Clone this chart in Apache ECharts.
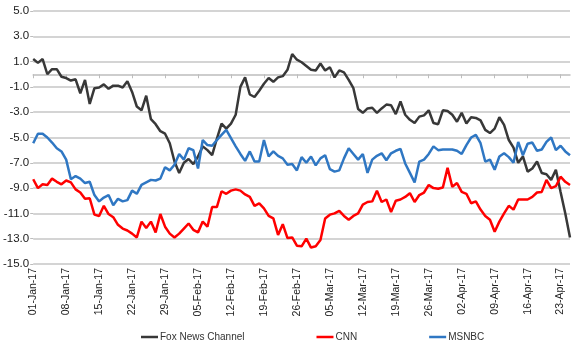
<!DOCTYPE html>
<html>
<head>
<meta charset="utf-8">
<script src="https://cdn.jsdelivr.net/npm/echarts@6/dist/echarts.min.js"></script>
<style>
html,body{margin:0;padding:0;background:#fff;}
#chart{width:580px;height:359px;}
</style>
</head>
<body>
<div id="chart"></div>
<script>
// Categories: daily dates from 01-Jan-17 to 25-Apr-17
const monthNames = ['Jan','Feb','Mar','Apr'];
const monthDays = [31, 28, 31, 25];
const dates = [];
for (let m = 0; m < monthNames.length; m++) {
  for (let d = 1; d <= monthDays[m]; d++) {
    dates.push((d < 10 ? '0' + d : '' + d) + '-' + monthNames[m] + '-17');
  }
}

const seriesNames = ['Fox News Channel', 'CNN', 'MSNBC'];

const fox = [
  1.2, 0.9, 1.2, 0.0, 0.4, 0.4, -0.2, -0.3, -0.5, -0.4,
  -1.5, -0.45, -2.35, -1.1, -1.05, -0.8, -1.15, -0.9, -0.9, -1.05,
  -0.55, -1.4, -2.55, -2.85, -1.7, -3.55, -3.95, -4.5, -4.7, -5.45,
  -6.9, -7.8, -7.0, -6.7, -7.1, -6.5, -5.7, -6.0, -6.4, -5.1,
  -3.9, -4.3, -3.9, -3.2, -1.0, -0.25, -1.6, -1.8, -1.3, -0.75,
  -0.3, -0.6, -0.25, -0.15, 0.35, 1.6, 1.15, 0.95, 0.65, 0.35,
  0.3, 0.85, 0.3, 0.55, -0.25, 0.3, 0.15, -0.45, -1.1, -2.75,
  -3.05, -2.7, -2.65, -3.05, -2.7, -2.4, -2.45, -3.15, -2.15, -3.2,
  -3.6, -3.85, -3.35, -3.25, -2.85, -3.85, -3.95, -2.85, -2.9, -3.2,
  -3.75, -3.05, -3.9, -3.4, -3.45, -3.65, -4.4, -4.65, -4.3, -3.4,
  -4.0, -5.2, -5.8, -7.0, -6.5, -7.7, -7.45, -6.9, -7.8, -7.9,
  -8.35, -7.55, -9.3, -11.0, -12.9
];

const cnn = [
  -8.3, -9.0, -8.7, -8.75, -8.25, -8.5, -8.7, -8.4, -8.55, -9.1,
  -9.35, -9.85, -9.8, -11.1, -11.2, -10.4, -11.05, -11.3, -11.9, -12.2,
  -12.35, -12.6, -12.9, -11.65, -12.15, -11.65, -12.5, -11.05, -12.05, -12.6,
  -12.9, -12.6, -12.2, -11.8, -12.3, -12.5, -11.65, -12.05, -10.5, -10.5,
  -9.25, -9.45, -9.2, -9.1, -9.2, -9.5, -9.7, -10.4, -10.2, -10.6,
  -11.2, -11.4, -12.7, -11.85, -12.95, -12.9, -13.55, -13.6, -13.0, -13.7,
  -13.6, -13.1, -11.4, -11.1, -11.0, -10.8, -11.2, -11.5, -11.2, -11.0,
  -10.3, -10.1, -10.05, -9.2, -10.1, -9.9, -10.9, -10.0, -9.9, -9.7,
  -9.4, -10.1, -9.55, -9.35, -8.75, -9.0, -9.05, -8.95, -7.4, -8.9,
  -8.6, -9.3, -9.45, -10.2, -10.05, -10.7, -11.2, -11.5, -12.45, -11.65,
  -11.0, -10.4, -10.7, -9.9, -9.9, -9.9, -9.7, -9.35, -9.3, -8.35,
  -9.0, -8.85, -8.1, -8.5, -8.75
];

const msnbc = [
  -5.45, -4.7, -4.7, -5.0, -5.4, -5.85, -6.1, -6.75, -8.3, -8.05,
  -8.25, -8.6, -8.5, -9.55, -10.05, -9.75, -9.55, -10.35, -9.85, -10.05,
  -9.95, -9.2, -9.45, -8.75, -8.55, -8.35, -8.4, -8.25, -7.35, -7.6,
  -7.15, -6.3, -6.75, -5.85, -6.0, -7.45, -5.2, -5.6, -5.65, -5.2,
  -4.8, -4.4, -5.05, -5.7, -6.3, -6.85, -6.1, -6.9, -6.9, -5.2,
  -6.5, -6.1, -6.45, -6.65, -7.15, -7.1, -7.6, -6.55, -7.0, -6.5,
  -7.2, -6.65, -6.4, -7.5, -7.7, -7.6, -6.65, -5.85, -6.3, -6.75,
  -6.3, -7.8, -6.75, -6.45, -6.25, -6.8, -6.25, -6.05, -5.9, -7.05,
  -7.8, -8.55, -6.9, -6.75, -6.3, -5.7, -6.0, -5.95, -5.95, -5.95,
  -6.05, -6.3, -5.6, -5.0, -4.8, -5.45, -6.9, -6.75, -7.55, -6.5,
  -6.25, -6.55, -7.0, -5.35, -6.4, -5.5, -5.4, -6.05, -5.95, -5.35,
  -5.0, -6.0, -5.65, -6.1, -6.4
];

const yTicks = { min: -15, max: 5, step: 2 };
const colors = ['#383838', '#ff0000', '#2f77c3'];

const chart = echarts.init(document.getElementById('chart'), null, { renderer: 'canvas' });
const font = '"Liberation Sans", Arial, sans-serif';

function lineSeries(name, data, color) {
  return {
    name: name,
    type: 'line',
    data: data,
    symbol: 'none',
    smooth: false,
    lineStyle: { color: color, width: 2.5 },
    itemStyle: { color: color },
    emphasis: { disabled: true },
    animation: false
  };
}

chart.setOption({
  animation: false,
  backgroundColor: '#ffffff',
  textStyle: { fontFamily: font },
  grid: { left: 33, right: 10, top: 11, bottom: 95, containLabel: false },
  legend: {
    data: seriesNames.map(n => ({ name: n, icon: 'rect' })),
    left: 136,
    top: 327,
    itemWidth: 17,
    itemHeight: 2.5,
    itemGap: 72,
    textStyle: { fontFamily: font, fontSize: 10, color: '#333', padding: [0, 0, 0, -3] },
    selectedMode: false
  },
  xAxis: {
    type: 'category',
    data: dates,
    boundaryGap: false,
    axisLine: { show: true, lineStyle: { color: '#bdbdbd', width: 1.5 } },
    axisTick: { show: true, interval: 6, length: 4, lineStyle: { color: '#bdbdbd' } },
    axisLabel: {
      interval: 6,
      rotate: 90,
      margin: 4,
      fontSize: 10.5,
      color: '#222',
      fontFamily: font
    },
    splitLine: { show: false }
  },
  yAxis: {
    type: 'value',
    min: yTicks.min,
    max: yTicks.max,
    interval: yTicks.step,
    axisLine: { show: false },
    axisTick: { show: true, length: 3, lineStyle: { color: '#bdbdbd' } },
    axisLabel: {
      formatter: v => v.toFixed(1),
      fontSize: 11.5,
      color: '#1a1a1a',
      margin: 4,
      fontFamily: font
    },
    splitLine: { show: true, lineStyle: { color: '#c6c6c6', width: 1.5 } }
  },
  series: [
    lineSeries(seriesNames[0], fox, colors[0]),
    lineSeries(seriesNames[1], cnn, colors[1]),
    lineSeries(seriesNames[2], msnbc, colors[2])
  ]
});
</script>
</body>
</html>
